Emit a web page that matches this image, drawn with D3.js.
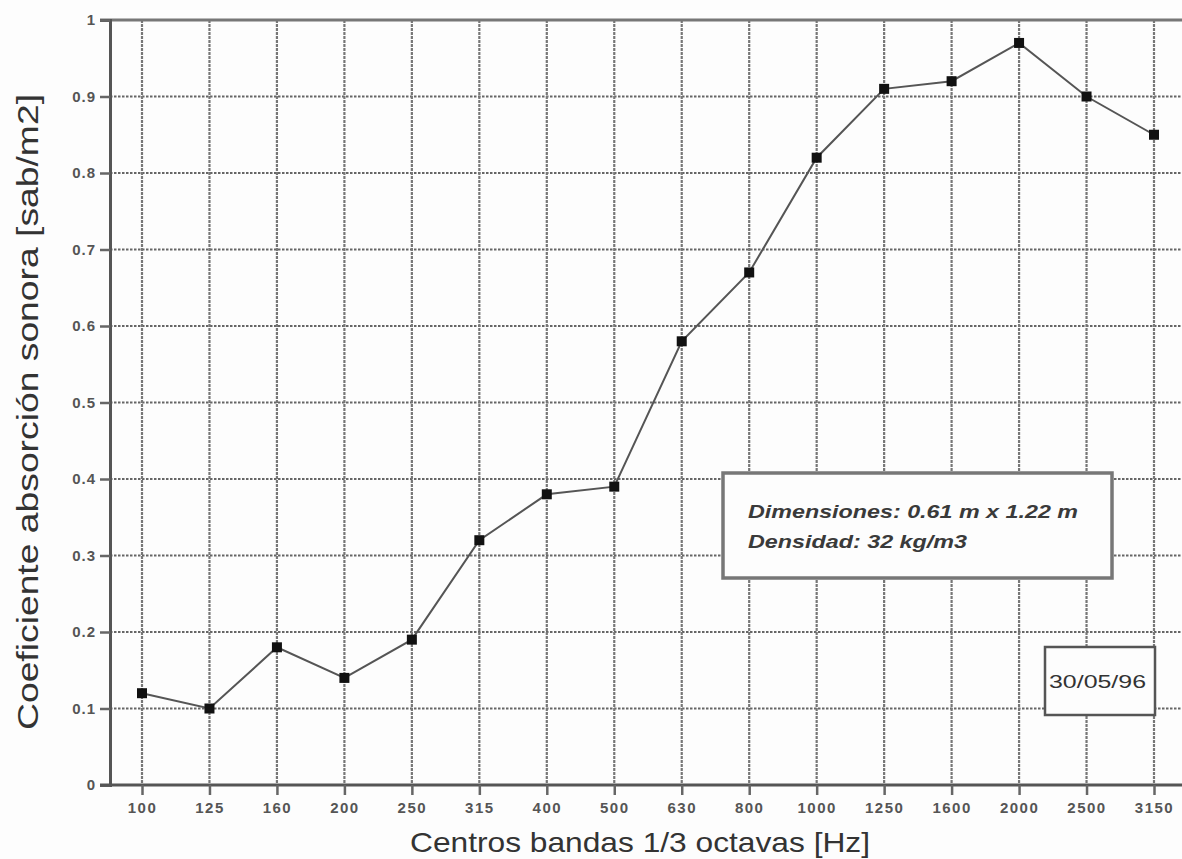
<!DOCTYPE html>
<html>
<head>
<meta charset="utf-8">
<script src="https://cdn.jsdelivr.net/npm/d3@7"></script>
<style>
  body { margin: 0; background: #fdfdfd; }
  text { font-family: "Liberation Sans", Arial, sans-serif; }
</style>
</head>
<body>
<div id="my_dataviz"></div>
<script>
// data
const bands = ["100", "125", "160", "200", "250", "315", "400", "500", "630", "800", "1000", "1250", "1600", "2000", "2500", "3150"];
const absorption = [0.12, 0.10, 0.18, 0.14, 0.19, 0.32, 0.38, 0.39, 0.58, 0.67, 0.82, 0.91, 0.92, 0.97, 0.90, 0.85];
const yTicks = [0, 0.1, 0.2, 0.3, 0.4, 0.5, 0.6, 0.7, 0.8, 0.9, 1];
const yTickLabels = ["0", "0.1", "0.2", "0.3", "0.4", "0.5", "0.6", "0.7", "0.8", "0.9", "1"];
const legendLines = ["Dimensiones: 0.61 m x 1.22 m", "Densidad: 32 kg/m3"];
const dateLabel = "30/05/96";

// set the dimensions and margins of the graph
const margin = { top: 20, right: 0, bottom: 74, left: 110 },
  width = 1080,
  height = 765;

const svg = d3.select("#my_dataviz")
  .append("svg")
  .attr("width", 1182)
  .attr("height", 859)
  .style("display", "block")
  .append("g")
  .attr("transform", `translate(${margin.left},${margin.top})`);

// scales
const x = d3.scalePoint()
  .domain(bands)
  .range([32, 1044]);

const y = d3.scaleLinear()
  .domain([0, 1])
  .range([height, 0]);

// horizontal grid (dotted look of the scan)
svg.append("g")
  .selectAll("line")
  .data(yTicks.filter(d => d > 0 && d < 1))
  .join("line")
  .attr("x1", 0)
  .attr("x2", width)
  .attr("y1", d => y(d))
  .attr("y2", d => y(d))
  .attr("stroke", "#666")
  .attr("stroke-width", 2.2)
  .attr("stroke-dasharray", "2.5,1.5");

// vertical grid
svg.append("g")
  .selectAll("line")
  .data(bands)
  .join("line")
  .attr("x1", d => x(d))
  .attr("x2", d => x(d))
  .attr("y1", 0)
  .attr("y2", height)
  .attr("stroke", "#777")
  .attr("stroke-width", 2.2)
  .attr("stroke-dasharray", "3,1");

// top frame line
svg.append("line")
  .attr("x1", -10)
  .attr("x2", width)
  .attr("y1", y(1))
  .attr("y2", y(1))
  .attr("stroke", "#777")
  .attr("stroke-width", 3);

// Y axis
const yAxis = svg.append("g")
  .call(d3.axisLeft(y)
    .tickValues(yTicks)
    .tickSize(10)
    .tickPadding(4)
    .tickFormat((d, i) => yTickLabels[i]));
yAxis.select(".domain").attr("stroke", "#555").attr("stroke-width", 3);
yAxis.selectAll(".tick line").attr("stroke", "#666").attr("stroke-width", 2.5);
yAxis.selectAll("text")
  .style("font-size", "15px")
  .style("font-weight", "bold")
  .style("letter-spacing", "1px")
  .attr("fill", "#555");

// X axis
const xAxis = svg.append("g")
  .attr("transform", `translate(0, ${height})`)
  .call(d3.axisBottom(x).tickSize(10).tickPadding(7).tickSizeOuter(0));
xAxis.select(".domain").attr("stroke", "#555").attr("stroke-width", 3)
  .attr("d", `M-10,0H${width}`);
xAxis.selectAll(".tick line").attr("stroke", "#666").attr("stroke-width", 2.5);
xAxis.selectAll("text")
  .style("font-size", "15px")
  .style("font-weight", "bold")
  .style("letter-spacing", "1.5px")
  .attr("fill", "#555");

// text label for the x axis
svg.append("text")
  .attr("x", 530)
  .attr("y", 832)
  .attr("text-anchor", "middle")
  .attr("textLength", 460)
  .attr("lengthAdjust", "spacingAndGlyphs")
  .style("font-size", "28px")
  .attr("fill", "#333")
  .text("Centros bandas 1/3 octavas [Hz]");

// text label for the y axis
svg.append("text")
  .attr("transform", `translate(-72, ${392}) rotate(-90)`)
  .attr("text-anchor", "middle")
  .attr("textLength", 636)
  .attr("lengthAdjust", "spacingAndGlyphs")
  .style("font-size", "29px")
  .attr("fill", "#333")
  .text("Coeficiente absorción sonora [sab/m2]");

// the curve
const line = d3.line()
  .x((d, i) => x(bands[i]))
  .y(d => y(d));

svg.append("path")
  .datum(absorption)
  .attr("fill", "none")
  .attr("stroke", "#555")
  .attr("stroke-width", 2)
  .attr("d", line);

const size = 10;
svg.append("g")
  .selectAll("rect")
  .data(absorption)
  .join("rect")
  .attr("x", (d, i) => x(bands[i]) - size / 2)
  .attr("y", d => y(d) - size / 2)
  .attr("width", size)
  .attr("height", size)
  .attr("fill", "#111");

// info box
const box = svg.append("g").attr("transform", "translate(613, 453)");
box.append("rect")
  .attr("width", 389)
  .attr("height", 105)
  .attr("fill", "#fdfdfd")
  .attr("stroke", "#777")
  .attr("stroke-width", 3.5);
box.selectAll("text")
  .data(legendLines)
  .join("text")
  .attr("x", 25)
  .attr("y", (d, i) => 45 + i * 30)
  .attr("textLength", (d, i) => i === 0 ? 330 : 219)
  .attr("lengthAdjust", "spacingAndGlyphs")
  .style("font-size", "19px")
  .style("font-style", "italic")
  .style("font-weight", "bold")
  .attr("fill", "#3a3a3a")
  .text(d => d);

// date box
const dateBox = svg.append("g").attr("transform", "translate(935, 627)");
dateBox.append("rect")
  .attr("width", 110)
  .attr("height", 68)
  .attr("fill", "#fdfdfd")
  .attr("stroke", "#555")
  .attr("stroke-width", 2.5);
dateBox.append("text")
  .attr("x", 4)
  .attr("y", 41)
  .attr("textLength", 97)
  .attr("lengthAdjust", "spacingAndGlyphs")
  .style("font-size", "19px")
  .attr("fill", "#333")
  .text(dateLabel);
</script>
</body>
</html>
